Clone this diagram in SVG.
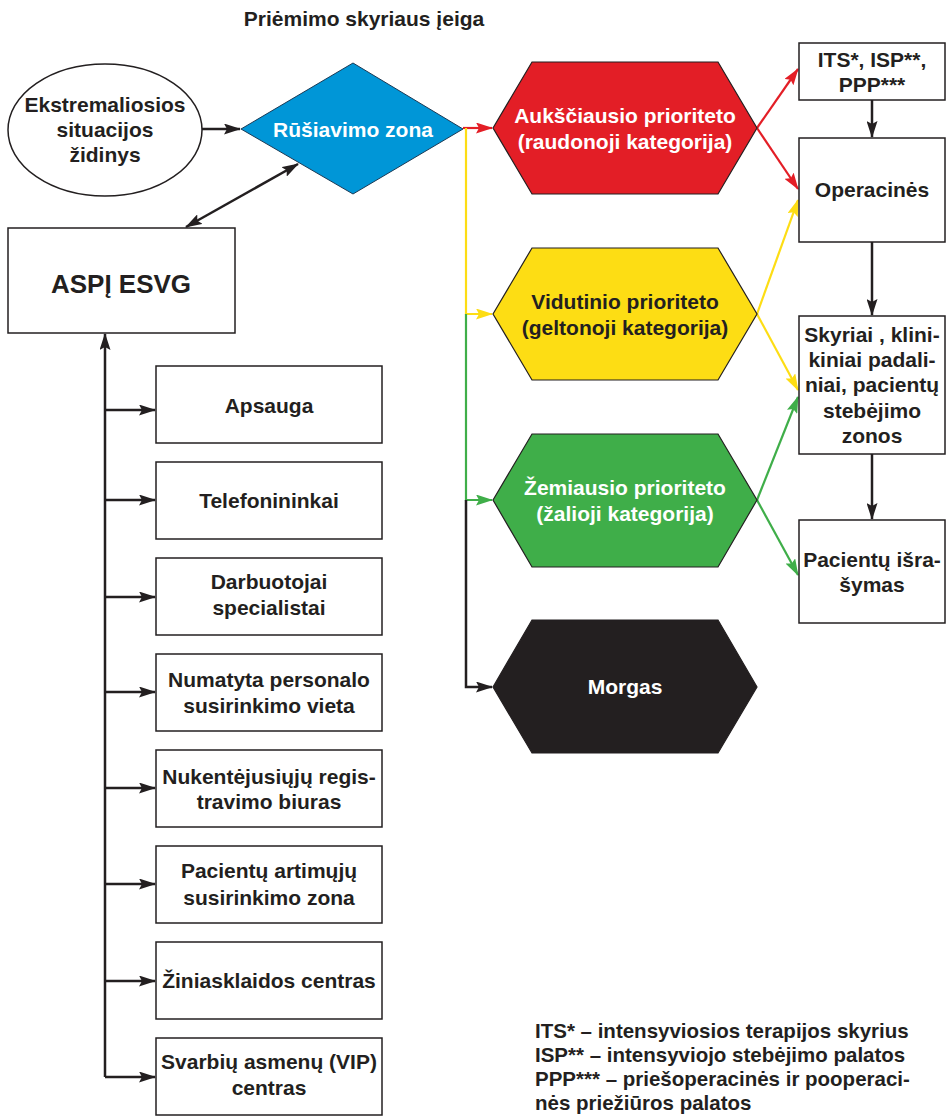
<svg xmlns="http://www.w3.org/2000/svg" width="946" height="1118" viewBox="0 0 946 1118">
  <style>
    .t { font-family: "Liberation Sans", Arial, sans-serif; font-weight: bold; font-size: 21px; fill: #231F20; text-anchor: middle; }
    .w { fill: #ffffff; }
    .box { fill: #ffffff; stroke: #231F20; stroke-width: 1.5; }
    .hex { stroke: #231F20; stroke-width: 1.2; }
    .k { fill: none; stroke: #231F20; stroke-width: 2.5; }
    .r { fill: none; stroke: #E31E26; stroke-width: 2.2; }
    .y { fill: none; stroke: #FDDD14; stroke-width: 2.2; }
    .g { fill: none; stroke: #3FAE49; stroke-width: 2.2; }
    .note { font-family: "Liberation Sans", Arial, sans-serif; font-weight: bold; font-size: 20.5px; fill: #231F20; }
  </style>
  <defs>
    <marker id="ak" viewBox="0 0 17 11" refX="16" refY="5.5" markerWidth="17" markerHeight="11" markerUnits="userSpaceOnUse" orient="auto-start-reverse">
      <path d="M0,0 L17,5.5 L0,11 L3,5.5 z" fill="#231F20"/>
    </marker>
    <marker id="ar" viewBox="0 0 17 11" refX="16" refY="5.5" markerWidth="17" markerHeight="11" markerUnits="userSpaceOnUse" orient="auto">
      <path d="M0,0 L17,5.5 L0,11 L3,5.5 z" fill="#E31E26"/>
    </marker>
    <marker id="ay" viewBox="0 0 17 11" refX="16" refY="5.5" markerWidth="17" markerHeight="11" markerUnits="userSpaceOnUse" orient="auto">
      <path d="M0,0 L17,5.5 L0,11 L3,5.5 z" fill="#FDDD14"/>
    </marker>
    <marker id="ag" viewBox="0 0 17 11" refX="16" refY="5.5" markerWidth="17" markerHeight="11" markerUnits="userSpaceOnUse" orient="auto">
      <path d="M0,0 L17,5.5 L0,11 L3,5.5 z" fill="#3FAE49"/>
    </marker>
  </defs>

  <rect width="946" height="1118" fill="#ffffff"/>

  <text class="t" x="364" y="26">Priėmimo skyriaus įeiga</text>

  <!-- connectors -->
  <g id="connectors">
    <line class="k" x1="202" y1="129" x2="240" y2="129" marker-end="url(#ak)"/>
    <line class="k" x1="186" y1="227" x2="298" y2="164" marker-start="url(#ak)" marker-end="url(#ak)"/>
    <!-- triage split -->
    <line class="r" x1="463" y1="128" x2="492" y2="128" marker-end="url(#ar)"/>
    <polyline class="y" points="466,128 466,314 492,314" marker-end="url(#ay)"/>
    <polyline class="g" points="466,314 466,500 492,500" marker-end="url(#ag)"/>
    <polyline class="k" points="466,500 466,687 492,687" marker-end="url(#ak)"/>
    <!-- category routes -->
    <line class="r" x1="757" y1="128" x2="798" y2="69" marker-end="url(#ar)"/>
    <line class="r" x1="757" y1="128" x2="798" y2="189" marker-end="url(#ar)"/>
    <line class="y" x1="757" y1="314" x2="798" y2="200" marker-end="url(#ay)"/>
    <line class="y" x1="757" y1="314" x2="798" y2="390" marker-end="url(#ay)"/>
    <line class="g" x1="757" y1="500" x2="798" y2="397" marker-end="url(#ag)"/>
    <line class="g" x1="757" y1="500" x2="798" y2="575" marker-end="url(#ag)"/>
    <!-- right column -->
    <line class="k" x1="872" y1="100" x2="872" y2="137" marker-end="url(#ak)"/>
    <line class="k" x1="872" y1="242" x2="872" y2="315" marker-end="url(#ak)"/>
    <line class="k" x1="872" y1="454" x2="872" y2="519" marker-end="url(#ak)"/>
    <!-- left services bus -->
    <line class="k" x1="105" y1="1077" x2="105" y2="334" marker-end="url(#ak)"/>
    <line class="k" x1="105" y1="410" x2="155" y2="410" marker-end="url(#ak)"/>
    <line class="k" x1="105" y1="500" x2="155" y2="500" marker-end="url(#ak)"/>
    <line class="k" x1="105" y1="597" x2="155" y2="597" marker-end="url(#ak)"/>
    <line class="k" x1="105" y1="692" x2="155" y2="692" marker-end="url(#ak)"/>
    <line class="k" x1="105" y1="788" x2="155" y2="788" marker-end="url(#ak)"/>
    <line class="k" x1="105" y1="884" x2="155" y2="884" marker-end="url(#ak)"/>
    <line class="k" x1="105" y1="981" x2="155" y2="981" marker-end="url(#ak)"/>
    <line class="k" x1="105" y1="1077" x2="155" y2="1077" marker-end="url(#ak)"/>
  </g>

  <g id="zidinys">
    <ellipse cx="105" cy="130" rx="97" ry="66" fill="#ffffff" stroke="#231F20" stroke-width="1.5"/>
    <text class="t" x="105" y="112">Ekstremaliosios</text>
    <text class="t" x="105" y="137">situacijos</text>
    <text class="t" x="105" y="162">židinys</text>
  </g>

  <g id="rusiavimas">
    <polygon points="241,129 353,63 463,129 353,194" fill="#0096D7" stroke="#1c3a55" stroke-width="1"/>
    <text class="t w" x="353" y="137">Rūšiavimo zona</text>
  </g>

  <g id="aspi">
    <rect class="box" x="8" y="228" width="227" height="105"/>
    <text class="t" x="121" y="293" style="font-size:26px">ASPĮ ESVG</text>
  </g>

  <g id="raudona">
    <polygon class="hex" points="493,128 532,62 718,62 757,128 718,194 532,194" fill="#E31E26"/>
    <text class="t w" x="625" y="123">Aukščiausio prioriteto</text>
    <text class="t w" x="625" y="149">(raudonoji kategorija)</text>
  </g>

  <g id="geltona">
    <polygon class="hex" points="493,314 532,248 718,248 757,314 718,380 532,380" fill="#FDDD14"/>
    <text class="t" x="625" y="309">Vidutinio prioriteto</text>
    <text class="t" x="625" y="335">(geltonoji kategorija)</text>
  </g>

  <g id="zalia">
    <polygon class="hex" points="493,500 532,434 718,434 757,500 718,567 532,567" fill="#3FAE49"/>
    <text class="t w" x="625" y="495">Žemiausio prioriteto</text>
    <text class="t w" x="625" y="521">(žalioji kategorija)</text>
  </g>

  <g id="morgas">
    <polygon class="hex" points="493,687 532,620 718,620 757,687 718,753 532,753" fill="#231F20"/>
    <text class="t w" x="625" y="694">Morgas</text>
  </g>

  <g id="its">
    <rect class="box" x="799" y="43" width="146" height="57"/>
    <text class="t" x="872" y="67">ITS*, ISP**,</text>
    <text class="t" x="872" y="92">PPP***</text>
  </g>

  <g id="operacines">
    <rect class="box" x="799" y="138" width="146" height="104"/>
    <text class="t" x="872" y="197">Operacinės</text>
  </g>

  <g id="skyriai">
    <rect class="box" x="799" y="316" width="146" height="138"/>
    <text class="t" x="872" y="342">Skyriai , klini-</text>
    <text class="t" x="872" y="367">kiniai padali-</text>
    <text class="t" x="872" y="392">niai, pacientų</text>
    <text class="t" x="872" y="418">stebėjimo</text>
    <text class="t" x="872" y="443">zonos</text>
  </g>

  <g id="israsymas">
    <rect class="box" x="799" y="520" width="146" height="103"/>
    <text class="t" x="872" y="567">Pacientų išra-</text>
    <text class="t" x="872" y="592">šymas</text>
  </g>

  <g id="apsauga">
    <rect class="box" x="156" y="366" width="226" height="77"/>
    <text class="t" x="269" y="413">Apsauga</text>
  </g>
  <g id="telefonininkai">
    <rect class="box" x="156" y="462" width="226" height="77"/>
    <text class="t" x="269" y="508">Telefonininkai</text>
  </g>
  <g id="darbuotojai">
    <rect class="box" x="156" y="558" width="226" height="77"/>
    <text class="t" x="269" y="589">Darbuotojai</text>
    <text class="t" x="269" y="615">specialistai</text>
  </g>
  <g id="surinkimo-vieta">
    <rect class="box" x="156" y="654" width="226" height="77"/>
    <text class="t" x="269" y="687">Numatyta personalo</text>
    <text class="t" x="269" y="713">susirinkimo vieta</text>
  </g>
  <g id="registravimas">
    <rect class="box" x="156" y="750" width="226" height="77"/>
    <text class="t" x="269" y="784">Nukentėjusiųjų regis-</text>
    <text class="t" x="269" y="809">travimo biuras</text>
  </g>
  <g id="artimieji">
    <rect class="box" x="156" y="846" width="226" height="77"/>
    <text class="t" x="269" y="878">Pacientų artimųjų</text>
    <text class="t" x="269" y="905">susirinkimo zona</text>
  </g>
  <g id="ziniasklaida">
    <rect class="box" x="156" y="942" width="226" height="77"/>
    <text class="t" x="269" y="988">Žiniasklaidos centras</text>
  </g>
  <g id="vip">
    <rect class="box" x="156" y="1038" width="226" height="77"/>
    <text class="t" x="269" y="1069">Svarbių asmenų (VIP)</text>
    <text class="t" x="269" y="1095">centras</text>
  </g>

  <g id="paaiskinimai">
    <text class="note" x="535" y="1038">ITS* – intensyviosios terapijos skyrius</text>
    <text class="note" x="535" y="1062">ISP** – intensyviojo stebėjimo palatos</text>
    <text class="note" x="535" y="1086">PPP*** – priešoperacinės ir pooperaci-</text>
    <text class="note" x="535" y="1110">nės priežiūros palatos</text>
  </g>
</svg>
